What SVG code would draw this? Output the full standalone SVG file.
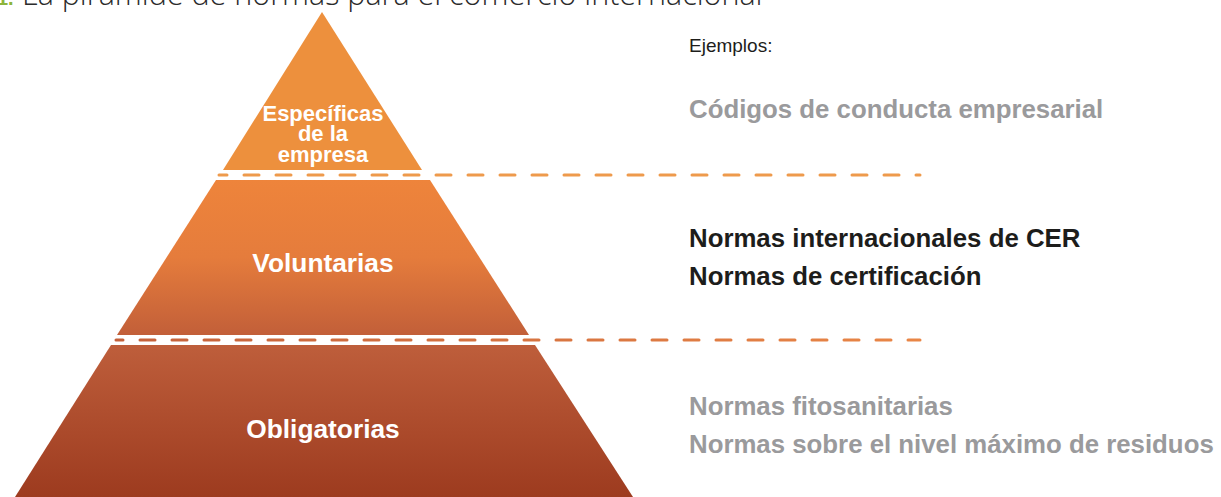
<svg xmlns="http://www.w3.org/2000/svg" width="1221" height="497" viewBox="0 0 1221 497">
<defs>
<linearGradient id="gVol" x1="0" y1="0" x2="0" y2="1">
<stop offset="0" stop-color="#EE843B"/>
<stop offset="0.5" stop-color="#E57C3C"/>
<stop offset="1" stop-color="#C25F39"/>
</linearGradient>
<linearGradient id="gObl" x1="0" y1="0" x2="0" y2="1">
<stop offset="0" stop-color="#BE5E3B"/>
<stop offset="1" stop-color="#9D3B1F"/>
</linearGradient>
<linearGradient id="gDash2" gradientUnits="userSpaceOnUse" x1="113" y1="0" x2="920" y2="0">
<stop offset="0" stop-color="#C4603A"/>
<stop offset="1" stop-color="#E98646"/>
</linearGradient>
<style>
.tier-label{font-family:"Liberation Sans",Arial,sans-serif;font-weight:bold;fill:#FFFFFF;text-anchor:middle}
.ex{font-family:"Liberation Sans",Arial,sans-serif;font-weight:bold;font-size:25.8px}
.gray{fill:#9A9A9C}
.dark{fill:#1D1D1B}
.dash{fill:none;stroke-width:3;stroke-linecap:round;stroke-dasharray:15 17}
</style>
</defs>
<rect width="1221" height="497" fill="#FFFFFF"/>
<g id="title">
<text x="-3" y="5" font-family="Liberation Sans,Arial,sans-serif" font-size="20" font-weight="bold" fill="#8DB43C">1.</text>
<text x="22" y="5" font-family="'Open Sans','Liberation Sans',sans-serif" font-weight="300" font-size="30.5" fill="#2B2B2B">La pirámide de normas para el comercio internacional</text>
</g>
<g id="tier-especificas">
<polygon points="322,12 422,170 223,170" fill="#ED903D"/>
<text class="tier-label" font-size="22" x="323" y="121">Específicas</text>
<text class="tier-label" font-size="22" x="323" y="141">de la</text>
<text class="tier-label" font-size="22" x="323" y="162">empresa</text>
</g>
<g id="tier-voluntarias">
<polygon points="216,180 430,180 529,335 117,335" fill="url(#gVol)"/>
<text class="tier-label" font-size="26.3" x="323" y="272">Voluntarias</text>
</g>
<g id="tier-obligatorias">
<polygon points="111,345 535,345 633,497 15,497" fill="url(#gObl)"/>
<text class="tier-label" font-size="26.3" x="323" y="438">Obligatorias</text>
</g>
<g id="separators">
<line class="dash" x1="219" y1="175" x2="920" y2="175" stroke="#EE9A4C" stroke-dashoffset="7"/>
<line class="dash" x1="116" y1="340" x2="920" y2="340" stroke="url(#gDash2)" stroke-dashoffset="8"/>
</g>
<g id="examples">
<text x="689" y="52" font-family="'Liberation Sans',Arial,sans-serif" font-size="19" fill="#1D1D1B">Ejemplos:</text>
<text class="ex gray" x="689" y="118">Códigos de conducta empresarial</text>
<text class="ex dark" x="689" y="247">Normas internacionales de CER</text>
<text class="ex dark" x="689" y="285">Normas de certificación</text>
<text class="ex gray" x="689" y="415">Normas fitosanitarias</text>
<text class="ex gray" x="689" y="453">Normas sobre el nivel máximo de residuos</text>
</g>
</svg>
